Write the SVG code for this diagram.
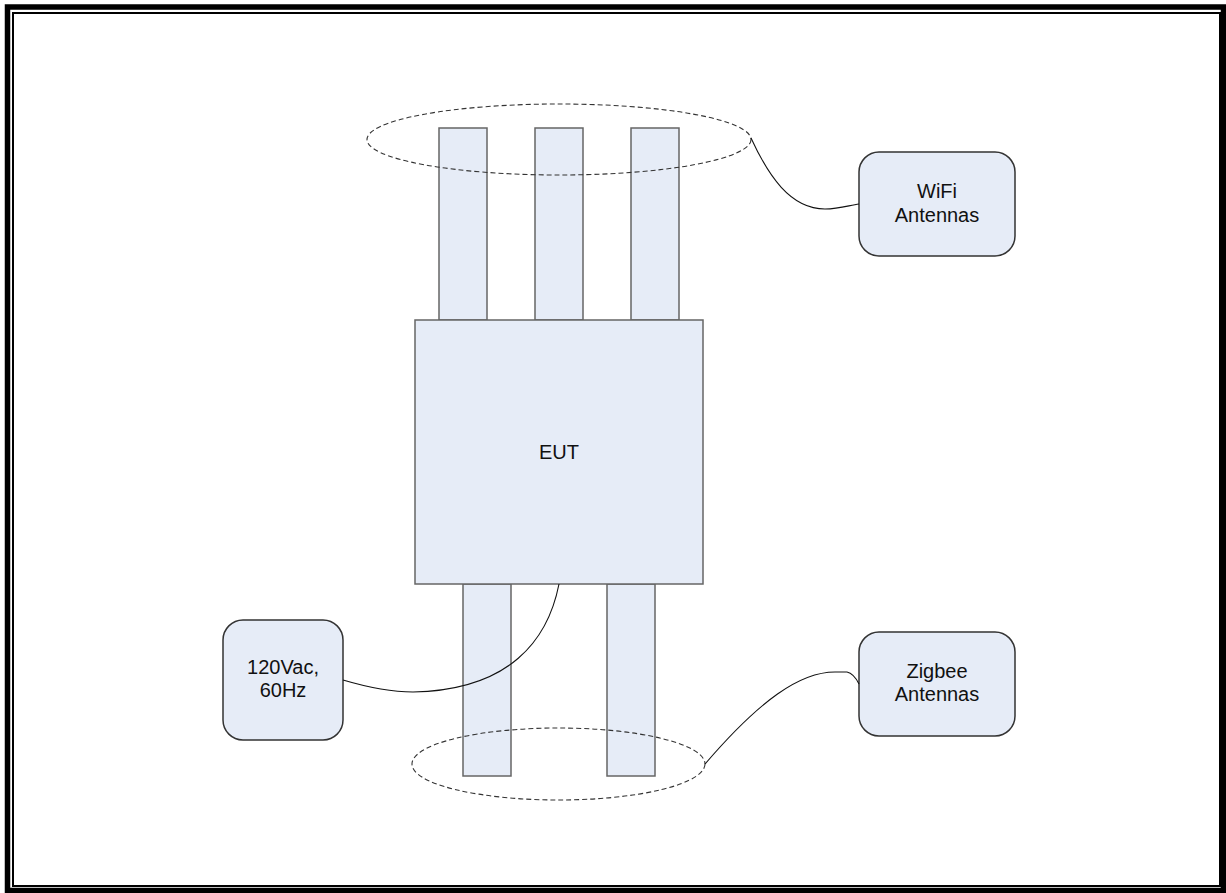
<svg xmlns="http://www.w3.org/2000/svg" width="1226" height="893" viewBox="0 0 1226 893">
<style>
.ant{fill:#E6ECF7;stroke:#666;stroke-width:1.5}
.box{fill:#E6ECF7;stroke:#333;stroke-width:1.5}
.ell{fill:none;stroke:#333;stroke-width:1.1;stroke-dasharray:5 3}
.con{fill:none;stroke:#111;stroke-width:1.1}
text{font-family:"Liberation Sans",Arial,sans-serif;font-size:20px;fill:#111;text-anchor:middle}
</style>
<rect width="1226" height="893" fill="#fff"/>
<g id="frame">
<rect x="7.5" y="7" width="1216" height="883.5" fill="none" stroke="#000" stroke-width="5.5"/>
<rect x="13" y="13" width="1207" height="873" fill="none" stroke="#000" stroke-width="2"/>
</g>
<g id="wifi-antennas-rods">
<rect class="ant" x="439" y="128" width="48" height="192"/>
<rect class="ant" x="535" y="128" width="48" height="192"/>
<rect class="ant" x="631" y="128" width="48" height="192"/>
</g>
<g id="zigbee-antennas-rods">
<rect class="ant" x="463" y="584" width="48" height="192"/>
<rect class="ant" x="607" y="584" width="48" height="192"/>
</g>
<g id="eut">
<rect class="ant" x="415" y="320" width="288" height="264"/>
<text x="559" y="459">EUT</text>
</g>
<g id="wifi-group">
<ellipse class="ell" cx="559" cy="139.5" rx="192" ry="35.5"/>
</g>
<g id="zigbee-group">
<ellipse class="ell" cx="558.5" cy="764" rx="146.5" ry="36"/>
</g>
<g id="wifi-label">
<rect class="box" x="859" y="152" width="156" height="104" rx="20" ry="20"/>
<text x="937" y="198">WiFi</text>
<text x="937" y="221.5">Antennas</text>
</g>
<g id="power-label">
<rect class="box" x="223" y="620" width="120" height="120" rx="20" ry="20"/>
<text x="283" y="673.5">120Vac,</text>
<text x="283" y="697">60Hz</text>
</g>
<g id="zigbee-label">
<rect class="box" x="859" y="632" width="156" height="104" rx="20" ry="20"/>
<text x="937" y="677.5">Zigbee</text>
<text x="937" y="701">Antennas</text>
</g>
<g id="connectors">
<path class="con" d="M751,138 C768,175 790,209 825,209 C840,209 850,205 859,204"/>
<path class="con" d="M559,584 C548,640 510,690 413,692 C390,692 370,688 343,680"/>
<path class="con" d="M705,764 C760,700 800,672 835,672 L847,672 C852,673 856,678 859,684"/>
</g>
</svg>
